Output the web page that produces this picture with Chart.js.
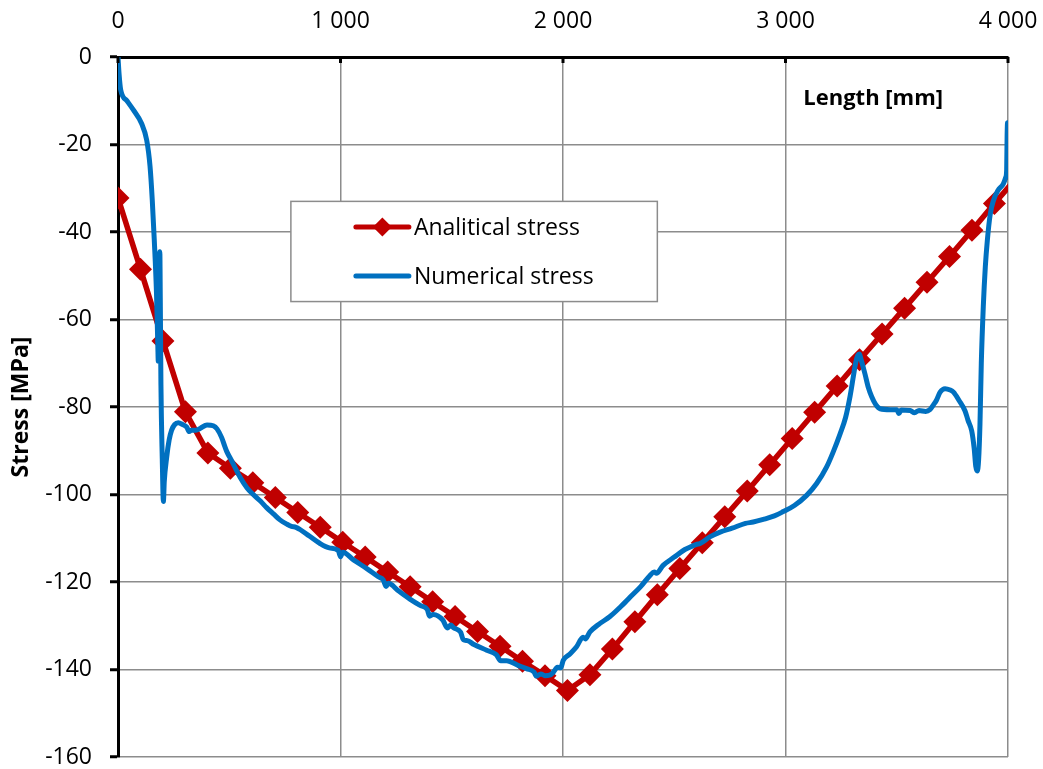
<!DOCTYPE html>
<html>
<head>
<meta charset="utf-8">
<script src="https://cdn.jsdelivr.net/npm/chart.js@4/dist/chart.umd.min.js"></script>
<style>
  html, body { margin: 0; padding: 0; background: #fff; }
</style>
</head>
<body>
<canvas id="chart" width="1043" height="769"></canvas>
<script>
// Analytical stress (red, with diamond markers)
const anaLength = [0, 101, 202, 303, 404, 505, 606, 707, 808, 909,
  1010, 1111, 1212, 1313, 1414, 1515, 1616, 1717, 1818, 1919,
  2020, 2121, 2222, 2323, 2424, 2525, 2626, 2727, 2828, 2929,
  3030, 3131, 3232, 3333, 3434, 3535, 3636, 3737, 3838, 3939, 4040];
const anaStress = [-32.2, -48.5, -64.9, -81.1, -90.5, -94.0, -97.3, -100.7, -104.1, -107.5,
  -110.9, -114.3, -117.7, -121.1, -124.5, -127.9, -131.3, -134.7, -138.1, -141.4,
  -144.8, -141.2, -135.3, -129.1, -122.9, -116.9, -111.0, -105.1, -99.2, -93.2,
  -87.2, -81.2, -75.2, -69.2, -63.3, -57.4, -51.5, -45.6, -39.6, -33.5, -27.5];

// Numerical stress (blue)
const numLength = [0, 5, 12, 40, 69, 106, 129, 144, 154, 163,
  173, 179, 181, 184, 188, 190, 193, 199, 204, 208,
  219, 230, 241, 255, 271, 290, 309, 320, 331, 350,
  369, 400, 428, 445, 466, 480, 489, 511, 548, 580,
  608, 640, 668, 700, 728, 760, 780, 800, 818, 860,
  908, 950, 990, 1000, 1010, 1060, 1120, 1170, 1192, 1205,
  1215, 1260, 1312, 1360, 1390, 1400, 1417, 1460, 1480, 1495,
  1507, 1540, 1552, 1570, 1600, 1657, 1700, 1720, 1746, 1800,
  1836, 1870, 1880, 1900, 1919, 1940, 1957, 1975, 1990, 2001,
  2030, 2061, 2090, 2100, 2121, 2160, 2211, 2260, 2280, 2301,
  2350, 2391, 2410, 2420, 2450, 2500, 2541, 2560, 2600, 2616,
  2660, 2706, 2760, 2820, 2855, 2900, 2950, 2990, 3040, 3095,
  3140, 3185, 3215, 3245, 3270, 3290, 3305, 3315, 3325, 3332,
  3340, 3357, 3372, 3387, 3405, 3425, 3470, 3500, 3510, 3520,
  3560, 3580, 3600, 3630, 3649, 3665, 3679, 3695, 3717, 3740,
  3755, 3780, 3807, 3820, 3837, 3848, 3855, 3862, 3868, 3874,
  3880, 3889, 3898, 3907, 3920, 3934, 3955, 3979, 3990, 3994,
  3996, 3998, 4000];
const numStress = [0, -4, -7.5, -10, -12.1, -15.2, -19, -25, -32.7, -41.8,
  -54, -66, -69.5, -52, -44.5, -55, -75, -92, -101.6, -97,
  -91.4, -87.5, -85.3, -84, -83.6, -84, -84.6, -85.6, -85.3, -85.3,
  -84.9, -84.1, -84.3, -85, -87, -89, -90.2, -92.3, -96, -98.5,
  -100, -101.5, -103, -104.5, -105.8, -106.8, -107.3, -107.5, -108, -109.5,
  -111.2, -112.2, -112.8, -114.2, -113.2, -115, -117, -118.8, -119.5, -121,
  -120.3, -122, -123.9, -125.4, -126.3, -127.8, -127.4, -128.7, -130.5, -129.8,
  -130.4, -131.5, -133.2, -133.4, -134.3, -135.6, -136.6, -138, -138, -139.1,
  -139.8, -140.6, -141.5, -141, -141.4, -141.3, -140.6, -139.5, -139.6, -137.9,
  -136.5, -134.8, -132.6, -133, -131.4, -129.7, -127.9, -125.6, -124.6, -123.5,
  -121, -118.5, -117.7, -118, -116.2, -114.3, -112.8, -112.3, -111.4, -111.2,
  -109.7, -108.6, -107.7, -106.6, -106.3, -105.7, -104.9, -103.9, -102.5, -100.2,
  -97.5, -93.7, -90.2, -86.2, -82.4, -77.6, -73, -70, -68.2, -67.9,
  -69.2, -72.4, -75.5, -77.6, -79.4, -80.4, -80.6, -80.6, -81.5, -80.7,
  -80.8, -81.3, -80.8, -81, -80.6, -79.5, -78.4, -76.6, -75.8, -76.1,
  -76.6, -78.5, -80.9, -83, -85.5, -89.5, -93.5, -94.6, -92, -84,
  -70, -57, -48, -42, -36, -32.9, -30.5, -29, -27.5, -25.8,
  -18, -15, -20];

const xTicks = [0, 1000, 2000, 3000, 4000];
const yTicks = [0, -20, -40, -60, -80, -100, -120, -140, -160];

const seriesNames = ['Analitical stress', 'Numerical stress'];
const seriesColors = ['#C00000', '#0070C0'];

const FONT = '"Open Sans", "Liberation Sans", sans-serif';
Chart.defaults.font.family = FONT;
Chart.defaults.color = '#000';

function spaced(v) {
  return String(Math.abs(v)).replace(/\B(?=(\d{3})+(?!\d))/g, ' ').replace(/^/, v < 0 ? '-' : '');
}

function drawDiamond(ctx, cx, cy, r) {
  ctx.beginPath();
  ctx.moveTo(cx, cy - r);
  ctx.lineTo(cx + r, cy);
  ctx.lineTo(cx, cy + r);
  ctx.lineTo(cx - r, cy);
  ctx.closePath();
  ctx.fill();
}

// inner ticks on the top axis, the "Length [mm]" label and the boxed legend
const extras = {
  id: 'extras',
  afterDraw(chart) {
    const { ctx, scales: { x, y } } = chart;
    ctx.save();

    ctx.strokeStyle = '#000';
    ctx.lineWidth = 3;
    xTicks.forEach(v => {
      const px = x.getPixelForValue(v);
      ctx.beginPath();
      ctx.moveTo(px, y.top);
      ctx.lineTo(px, y.top + 6);
      ctx.stroke();
    });

    ctx.fillStyle = '#000';
    ctx.font = 'bold 22px ' + FONT;
    ctx.textBaseline = 'middle';
    ctx.textAlign = 'left';
    ctx.fillText('Length [mm]', x.getPixelForValue(3080), y.getPixelForValue(-9.6));

    const L = x.getPixelForValue(777), R = x.getPixelForValue(2424);
    const T = y.getPixelForValue(-33), B = y.getPixelForValue(-55.9);
    ctx.fillStyle = '#fff';
    ctx.fillRect(L, T, R - L, B - T);
    ctx.strokeStyle = '#8c8c8c';
    ctx.lineWidth = 1.5;
    ctx.strokeRect(L, T, R - L, B - T);

    ctx.font = '23px ' + FONT;
    ctx.lineCap = 'round';
    seriesNames.forEach((name, i) => {
      const cy = T + 25.7 + i * 49;
      ctx.strokeStyle = seriesColors[i];
      ctx.lineWidth = 5;
      ctx.beginPath();
      ctx.moveTo(L + 65, cy);
      ctx.lineTo(L + 118, cy);
      ctx.stroke();
      if (i === 0) {
        ctx.fillStyle = seriesColors[0];
        drawDiamond(ctx, L + 91.5, cy, 9.5);
      }
      ctx.fillStyle = '#000';
      ctx.fillText(name, L + 123, cy + 1);
    });
    ctx.restore();
  }
};

new Chart(document.getElementById('chart'), {
  type: 'line',
  data: {
    datasets: [
      {
        label: seriesNames[0],
        data: anaLength.map((v, i) => ({ x: v, y: anaStress[i] })),
        borderColor: seriesColors[0],
        backgroundColor: seriesColors[0],
        borderWidth: 5.5,
        pointStyle: 'rectRot',
        pointRadius: 11.5,
        pointBorderWidth: 0,
        tension: 0,
        order: 2
      },
      {
        label: seriesNames[1],
        data: numLength.map((v, i) => ({ x: v, y: numStress[i] })),
        borderColor: seriesColors[1],
        backgroundColor: seriesColors[1],
        borderWidth: 5,
        pointRadius: 0,
        cubicInterpolationMode: 'monotone',
        order: 1
      }
    ]
  },
  options: {
    responsive: false,
    animation: false,
    layout: { padding: { left: 0, right: 35, top: 0, bottom: 12 } },
    plugins: { legend: { display: false }, tooltip: { enabled: false } },
    scales: {
      x: {
        type: 'linear',
        position: 'top',
        min: 0,
        max: 4000,
        afterBuildTicks: s => { s.ticks = xTicks.map(v => ({ value: v })); },
        afterFit: s => { s.height = 57; s.paddingLeft = 0; s.paddingRight = 0; },
        ticks: { font: { size: 23 }, padding: 22, maxRotation: 0, callback: v => spaced(v) },
        grid: { color: '#8c8c8c', lineWidth: 1.5, drawTicks: false },
        border: { color: '#000', width: 3 }
      },
      y: {
        min: -160,
        max: 0,
        afterBuildTicks: s => { s.ticks = yTicks.map(v => ({ value: v })); },
        afterFit: s => { s.width = 118; s.paddingTop = 0; s.paddingBottom = 0; },
        ticks: { font: { size: 23 }, padding: 18, callback: v => spaced(v) },
        grid: { color: '#8c8c8c', lineWidth: 1.5, tickLength: 8, tickColor: '#000', tickWidth: 3 },
        border: { color: '#000', width: 3 },
        title: { display: true, text: 'Stress [MPa]', font: { size: 23, weight: 'bold' }, padding: { top: 8, bottom: 0 } }
      }
    }
  },
  plugins: [extras]
});
</script>
</body>
</html>
